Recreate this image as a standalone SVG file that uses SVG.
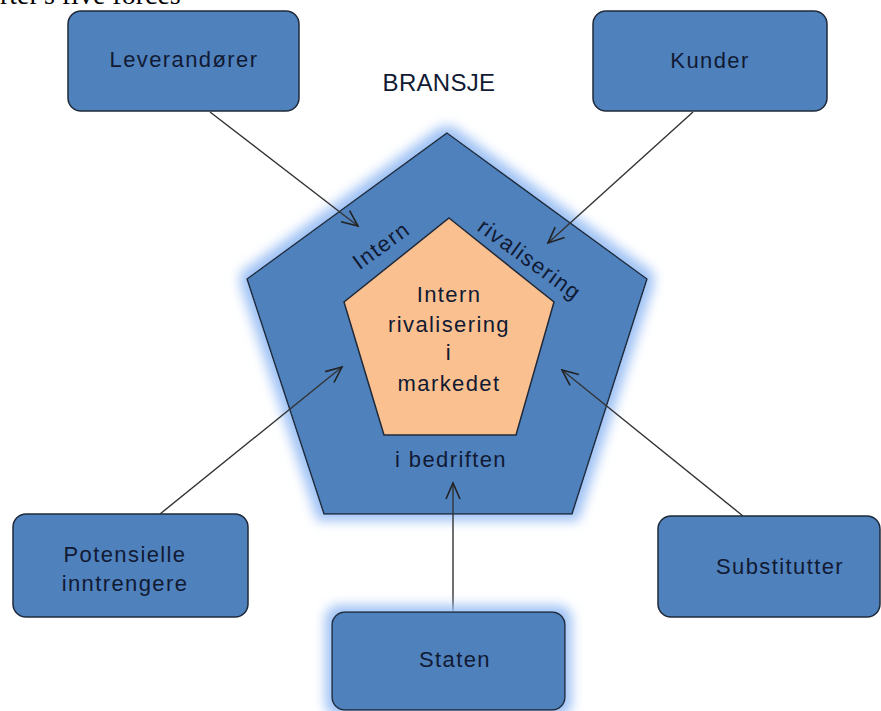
<svg xmlns="http://www.w3.org/2000/svg" width="881" height="711" viewBox="0 0 881 711">
<style>
.box{fill:#4f81bd;stroke:#1f2a3a;stroke-width:1.5}
.t{font-family:"Liberation Sans",Arial,sans-serif;font-size:22px;letter-spacing:1.4px;fill:#111a33;text-anchor:middle}
.c{stroke:#333;stroke-width:1.4;fill:none;marker-end:url(#ah)}
</style>
<defs>
<marker id="ah" viewBox="0 0 20 20" refX="18" refY="10" markerWidth="20" markerHeight="20" markerUnits="userSpaceOnUse" orient="auto">
<polyline points="2,3 18,10 2,17" fill="none" stroke="#222" stroke-width="1.6"/>
</marker>
<filter id="glow" x="-20%" y="-20%" width="140%" height="140%">
<feMorphology in="SourceAlpha" operator="dilate" radius="6" result="d"/>
<feGaussianBlur in="d" stdDeviation="6" result="b"/>
<feFlood flood-color="#9fc2f5"/>
<feComposite in2="b" operator="in" result="g"/>
<feMerge><feMergeNode in="g"/><feMergeNode in="SourceGraphic"/></feMerge>
</filter>
</defs>
<rect width="881" height="711" fill="#fff"/>
<text x="0" y="4" font-family="Liberation Serif,serif" font-size="28" fill="#000">rter's five forces</text>
<g id="bransje">
<polygon points="447,133 647,279 572,514 324,514 247,279" fill="#4f81bd" stroke="#1f2a3a" stroke-width="1.5" filter="url(#glow)"/>
<text class="t" x="439" y="91" style="font-size:24px;letter-spacing:0.3px">BRANSJE</text>
<text class="t" transform="translate(381,245) rotate(-36)" y="8">Intern</text>
<text class="t" transform="translate(530,259) rotate(36)" y="8">rivalisering</text>
<text class="t" x="451" y="467">i bedriften</text>
</g>
<g id="marked">
<polygon points="449,218 554,302 516,435 384,435 344,302" fill="#fbc08f" stroke="#1f2a3a" stroke-width="1.5"/>
<text class="t" x="449" y="302">Intern</text>
<text class="t" x="449" y="332">rivalisering</text>
<text class="t" x="449" y="360">i</text>
<text class="t" x="449" y="391">markedet</text>
</g>
<g id="connectors">
<line class="c" x1="210" y1="112" x2="358" y2="226"/>
<line class="c" x1="693" y1="112" x2="548" y2="243"/>
<line class="c" x1="160" y1="514" x2="342" y2="367"/>
<line class="c" x1="743" y1="516" x2="562" y2="370"/>
<line class="c" x1="453" y1="612" x2="453" y2="483"/>
</g>
<g id="leverandorer"><rect class="box" x="68" y="11" width="231" height="100" rx="13"/><text class="t" x="184" y="67">Leverandører</text></g>
<g id="kunder"><rect class="box" x="593" y="11" width="234" height="100" rx="13"/><text class="t" x="710" y="68">Kunder</text></g>
<g id="potensielle"><rect class="box" x="13" y="514" width="235" height="103" rx="13"/><text class="t" x="125" y="562">Potensielle</text><text class="t" x="125" y="591">inntrengere</text></g>
<g id="substitutter"><rect class="box" x="658" y="516" width="222" height="101" rx="13"/><text class="t" x="780" y="574">Substitutter</text></g>
<g id="staten"><rect class="box" x="332" y="612" width="233" height="98" rx="13" filter="url(#glow)"/><text class="t" x="455" y="667">Staten</text></g>
</svg>
